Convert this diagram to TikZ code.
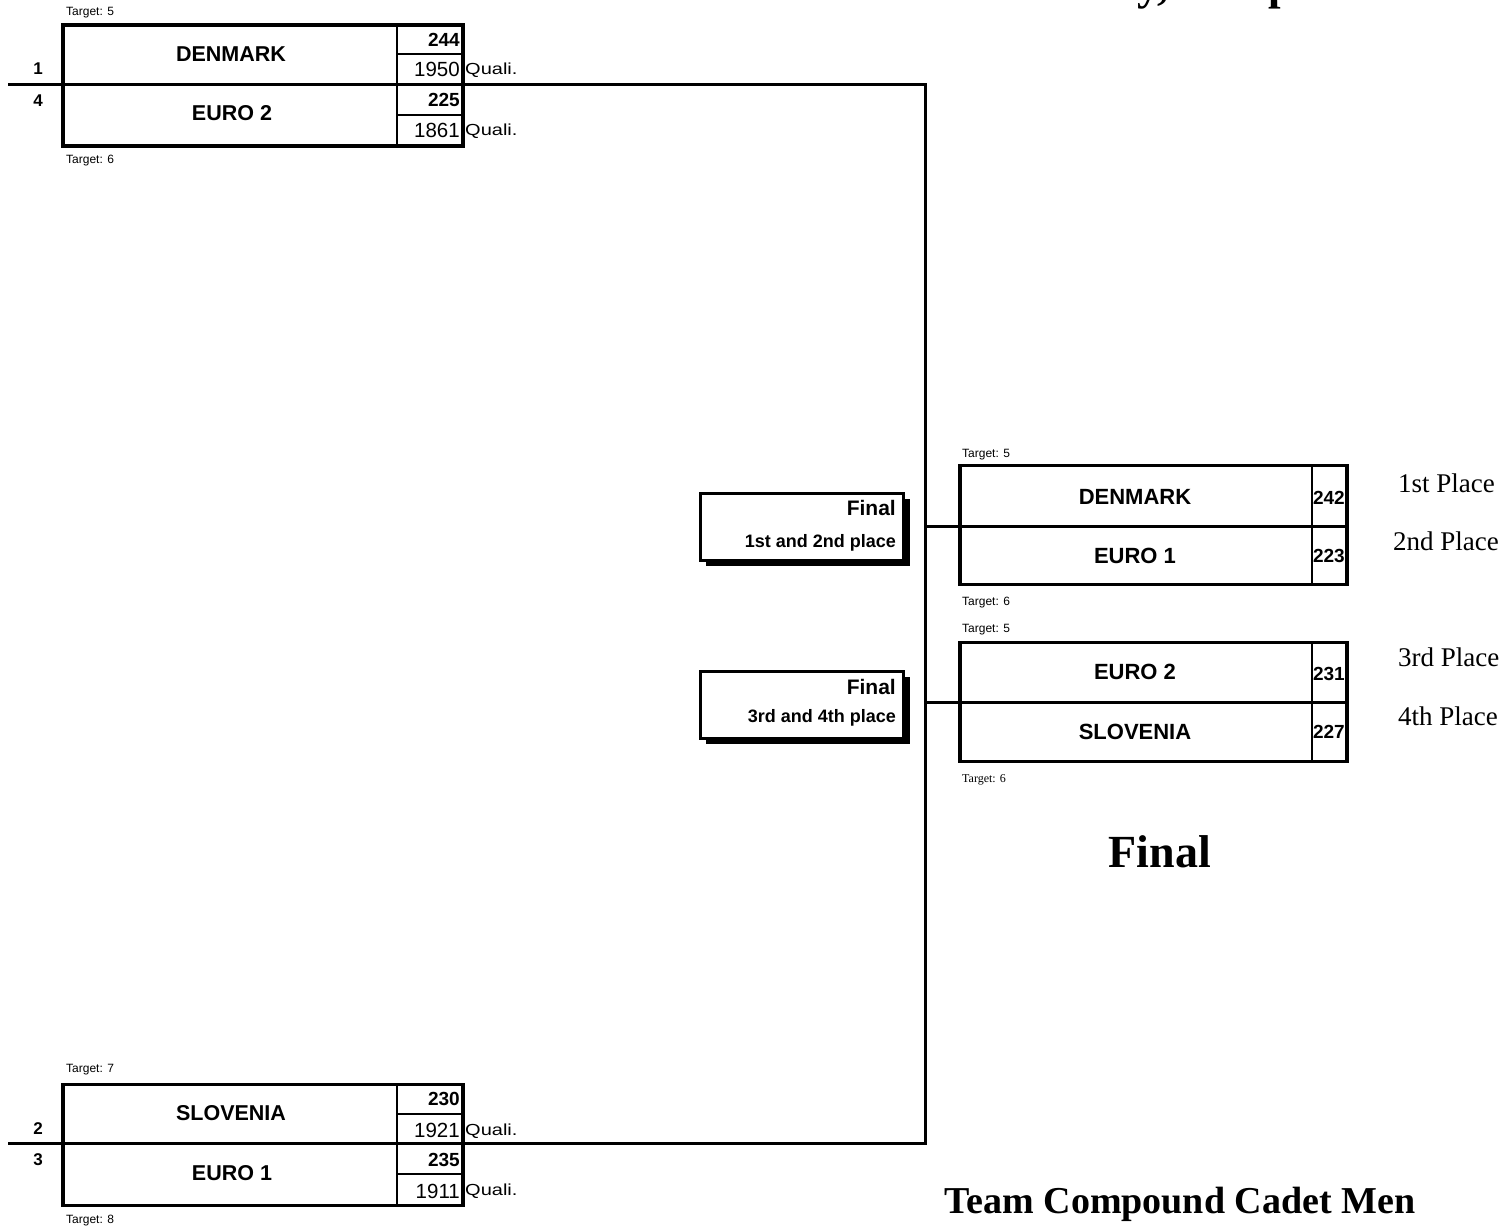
\documentclass[tikz,border=0pt]{standalone}
\usepackage{fontspec}
\setmainfont{Liberation Serif}
\newfontfamily\arial{Liberation Sans}
\newfontfamily\arialwide[FakeStretch=1.25]{Liberation Sans}
\begin{document}
\begin{tikzpicture}[x=1pt,y=-1pt,
  heavy/.style={line width=3pt},
  light/.style={line width=1.5pt},
  teambox/.style={draw,line width=3.5pt,minimum width=400pt,minimum height=121pt,inner sep=0pt},
  finbox/.style={draw,line width=3pt,fill=white,minimum width=203pt,minimum height=67pt,inner sep=0pt},
  resbox/.style={draw,line width=3.5pt,minimum width=387pt,minimum height=119pt,inner sep=0pt},
  tgt/.style={font=\arial\fontsize{12}{14}\selectfont,anchor=west,inner sep=0pt},
  tgtserif/.style={font=\fontsize{12}{14}\selectfont,anchor=west,inner sep=0pt},
  team/.style={font=\arial\bfseries\fontsize{21.5}{23}\selectfont,inner sep=0pt},
  rteam/.style={font=\arial\bfseries\fontsize{22}{24}\selectfont,inner sep=0pt},
  score/.style={font=\arial\bfseries\fontsize{19}{20}\selectfont,anchor=east,inner sep=0pt},
  qscore/.style={font=\arial\fontsize{20.5}{22}\selectfont,anchor=east,inner sep=0pt},
  quali/.style={font=\arialwide\fontsize{16}{18}\selectfont,anchor=west,inner sep=0pt},
  seed/.style={font=\arial\bfseries\fontsize{17}{18}\selectfont,inner sep=0pt},
  fhead/.style={font=\arial\bfseries\fontsize{21}{22}\selectfont,anchor=east,inner sep=0pt},
  fsub/.style={font=\arial\bfseries\fontsize{18}{20}\selectfont,anchor=east,inner sep=0pt},
  place/.style={font=\fontsize{27}{30}\selectfont,anchor=west,inner sep=0pt},
  big/.style={font=\bfseries\fontsize{46}{50}\selectfont,inner sep=0pt},
  title/.style={font=\bfseries\fontsize{45}{50}\selectfont,anchor=base west,inner sep=0pt}
]
\useasboundingbox (0,0) rectangle (1508,1229);
\fill[white] (0,0) rectangle (1508,1229);

% title, cut off at the top edge as in the reference
\node[title] (ttl) at (940,-1) {Wednesday, 13 April 2011};

% ---------- top semifinal ----------
\node[tgt] (t1) at (66,13) {Target: 5};
\node[teambox] (qa) at (263,85.5) {};
\draw[light] (397,25) -- (397,146);
\draw[light] (397,54) -- (463,54);
\draw[light] (397,115) -- (463,115);
\node[team] (na1) at (231,54) {DENMARK};
\node[team] (na2) at (232,113) {EURO 2};
\node[score] (sa1) at (460,40) {244};
\node[qscore] (qa1) at (460,69) {1950};
\node[score] (sa2) at (460,100) {225};
\node[qscore] (qa2) at (460,130) {1861};
\node[quali] (ua1) at (465,70) {Quali.};
\node[quali] (ua2) at (465,131) {Quali.};
\node[seed] (e1) at (38,69) {1};
\node[seed] (e4) at (38,101) {4};
\node[tgt] (t2) at (66,161) {Target: 6};

% ---------- bottom semifinal ----------
\node[tgt] (t3) at (66,1070) {Target: 7};
\node[teambox] (qb) at (263,1145) {};
\draw[light] (397,1085) -- (397,1205);
\draw[light] (397,1114) -- (463,1114);
\draw[light] (397,1174) -- (463,1174);
\node[team] (nb1) at (231,1113) {SLOVENIA};
\node[team] (nb2) at (232,1173) {EURO 1};
\node[score] (sb1) at (460,1099) {230};
\node[qscore] (qb1) at (460,1130) {1921};
\node[score] (sb2) at (460,1160) {235};
\node[qscore] (qb2) at (460,1191) {1911};
\node[quali] (ub1) at (465,1131) {Quali.};
\node[quali] (ub2) at (465,1191) {Quali.};
\node[seed] (e2) at (38,1129) {2};
\node[seed] (e3) at (38,1160) {3};
\node[tgt] (t4) at (66,1221) {Target: 8};

% ---------- bracket lines ----------
\coordinate (L1) at (8,84);
\coordinate (J1) at (925,84);
\coordinate (L2) at (8,1143);
\coordinate (J2) at (925,1143);
\coordinate (K1) at (925,526);
\coordinate (K2) at (925,702);
\draw[heavy] (L1) -- (J1) -- (J2) -- (L2);

% ---------- final labels ----------
\fill (706,499) rectangle (910,566);
\node[finbox] (fl1) at (801.5,526.5) {};
\node[fhead] (fh1) at (896,508) {Final};
\node[fsub] (fs1) at (896,543) {1st and 2nd place};
\fill (706,677) rectangle (910,744);
\node[finbox] (fl2) at (801.5,704.5) {};
\node[fhead] (fh2) at (896,687) {Final};
\node[fsub] (fs2) at (896,718) {3rd and 4th place};

% ---------- final result boxes ----------
\node[tgt] (t5) at (962,455) {Target: 5};
\node[resbox] (ra) at (1153.5,525) {};
\draw[heavy] (ra.west |- K1) -- (ra.east |- K1);
\draw[light] (1312,466) -- (1312,584);
\node[rteam] (ra1) at (1135,497) {DENMARK};
\node[rteam] (ra2) at (1135,556) {EURO 1};
\node[score] (rs1) at (1345,498) {242};
\node[score] (rs2) at (1345,556) {223};
\node[tgt] (t6) at (962,603) {Target: 6};
\draw[heavy] (K1) -- (ra.west |- K1);

\node[tgt] (t7) at (962,630) {Target: 5};
\node[resbox] (rb) at (1153.5,702) {};
\draw[heavy] (rb.west |- K2) -- (rb.east |- K2);
\draw[light] (1312,643) -- (1312,761);
\node[rteam] (rb1) at (1135,672) {EURO 2};
\node[rteam] (rb2) at (1135,732) {SLOVENIA};
\node[score] (rs3) at (1345,674) {231};
\node[score] (rs4) at (1345,732) {227};
\node[tgtserif] (t8) at (962,780) {Target: 6};
\draw[heavy] (K2) -- (rb.west |- K2);

% ---------- place labels ----------
\node[place] (p1) at (1398,483) {1st Place};
\node[place] (p2) at (1393,541) {2nd Place};
\node[place] (p3) at (1398,657) {3rd Place};
\node[place] (p4) at (1398,716) {4th Place};

% ---------- headings ----------
\node[big] (hf) at (1160,852) {Final};
\node[big,font=\bfseries\fontsize{38}{42}\selectfont] (hc) at (1180,1204) {Team Compound Cadet Men};
\end{tikzpicture}
\end{document}
